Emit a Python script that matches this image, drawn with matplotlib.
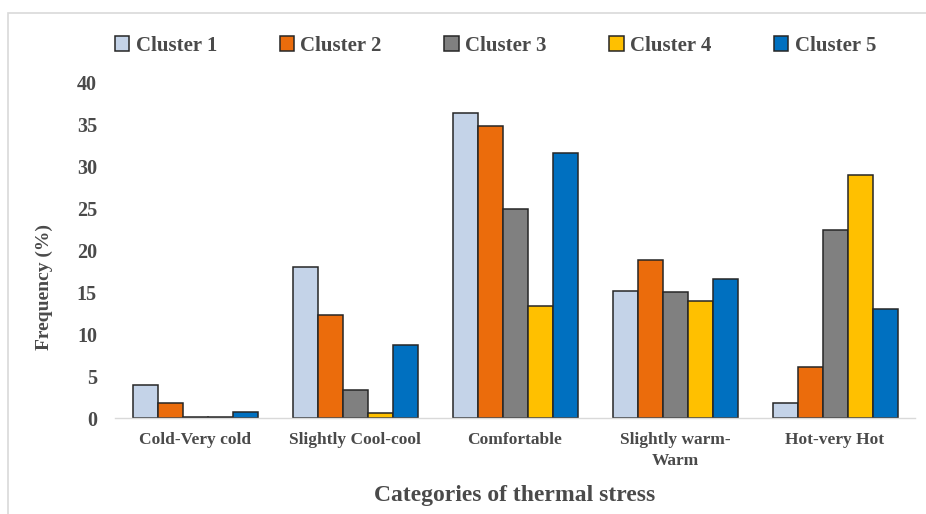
import matplotlib.pyplot as plt
import matplotlib.patches as patches
import numpy as np

categories = ['Cold-Very cold', 'Slightly Cool-cool', 'Comfortable',
              'Slightly warm-\nWarm', 'Hot-very Hot']
clusters = ['Cluster 1', 'Cluster 2', 'Cluster 3', 'Cluster 4', 'Cluster 5']
cluster1 = [3.9, 18.0, 36.4, 15.2, 1.8]
cluster2 = [1.8, 12.3, 34.9, 18.9, 6.1]
cluster3 = [0.15, 3.4, 25.0, 15.0, 22.4]
cluster4 = [0.1, 0.6, 13.4, 14.0, 29.0]
cluster5 = [0.75, 8.7, 31.7, 16.6, 13.0]
colors = ['#C4D3E8', '#EB6C0C', '#808080', '#FFC000', '#0070C0']

plt.rcParams['font.family'] = ['Liberation Serif', 'DejaVu Serif']
text_color = '#4A4A4A'

fig = plt.figure(figsize=(9.26, 5.14), dpi=100)
ax = fig.add_axes([115 / 926, 1 - 418 / 514, 800 / 926, 335 / 514])

# light border round the chart area
fig.patches.append(patches.Rectangle((8 / 926, -0.05), 1.1, 1 - 13 / 514 + 0.05,
                                     transform=fig.transFigure, fill=False,
                                     edgecolor='#D9D9D9', linewidth=1.2))

x = np.arange(len(categories))
width = 25 / 160
series = [cluster1, cluster2, cluster3, cluster4, cluster5]
for i, (vals, name, col) in enumerate(zip(series, clusters, colors)):
    ax.bar(x + (i - 2) * width, vals, width, color=col, edgecolor='#262626',
           linewidth=1.1, label=name)

ax.set_xlim(-0.5, len(categories) - 0.5)
ax.set_ylim(0, 40)
ax.set_yticks(range(0, 41, 5))
ax.set_xticks(x)
ax.set_xticklabels(categories, fontsize=12.5, fontweight='bold', color=text_color,
                   linespacing=1.4)
ax.tick_params(axis='y', labelsize=14.5, labelcolor=text_color, length=0, pad=13)
ax.tick_params(axis='x', length=0, pad=10)
for lab in ax.get_yticklabels():
    lab.set_fontweight('bold')

for s in ['top', 'right', 'left']:
    ax.spines[s].set_visible(False)
ax.spines['bottom'].set_color('#D9D9D9')
ax.spines['bottom'].set_linewidth(1.0)

ax.set_ylabel('Frequency (%)', fontsize=14, fontweight='bold', color=text_color)
ax.yaxis.set_label_coords(-0.078, 0.39)
ax.set_xlabel('Categories of thermal stress', fontsize=17, fontweight='bold',
              color=text_color, labelpad=12)

leg = fig.legend(loc='center', bbox_to_anchor=(0.535, 1 - 46 / 514), ncol=5,
                 frameon=False, fontsize=15, handlelength=0.7, handleheight=0.7,
                 handletextpad=0.3, columnspacing=3.0)
for t in leg.get_texts():
    t.set_fontweight('bold')
    t.set_color(text_color)

fig.savefig('out.png', dpi=100)
